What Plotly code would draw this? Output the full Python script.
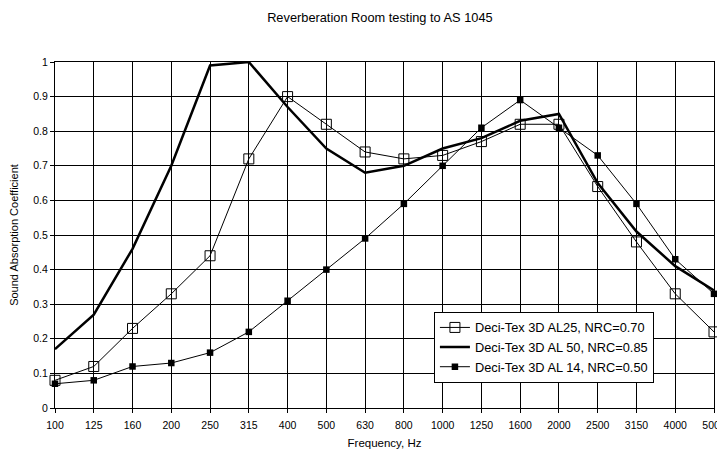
import plotly.graph_objects as go

freqs = ["100", "125", "160", "200", "250", "315", "400", "500", "630", "800",
         "1000", "1250", "1600", "2000", "2500", "3150", "4000", "5000"]

al25 = [0.08, 0.12, 0.23, 0.33, 0.44, 0.72, 0.90, 0.82, 0.74, 0.72,
        0.73, 0.77, 0.82, 0.82, 0.64, 0.48, 0.33, 0.22]
al50 = [0.17, 0.27, 0.46, 0.70, 0.99, 1.00, 0.87, 0.75, 0.68, 0.70,
        0.75, 0.78, 0.83, 0.85, 0.65, 0.51, 0.41, 0.34]
al14 = [0.07, 0.08, 0.12, 0.13, 0.16, 0.22, 0.31, 0.40, 0.49, 0.59,
        0.70, 0.81, 0.89, 0.81, 0.73, 0.59, 0.43, 0.33]

names = ["Deci-Tex 3D AL25, NRC=0.70",
         "Deci-Tex 3D AL 50, NRC=0.85",
         "Deci-Tex 3D AL 14, NRC=0.50"]

FONT = "Arial, Liberation Sans, sans-serif"

# page has an 8px body margin, so the figure is sized/placed to compensate
W, H = 717, 441

fig = go.Figure()
fig.add_trace(go.Scatter(
    x=freqs, y=al25, name=names[0], mode="lines+markers",
    line=dict(color="black", width=1),
    marker=dict(symbol="square-open", size=10, color="black", line=dict(width=1, color="black")),
    cliponaxis=False))
fig.add_trace(go.Scatter(
    x=freqs, y=al50, name=names[1], mode="lines",
    line=dict(color="black", width=2.5),
    cliponaxis=False))
fig.add_trace(go.Scatter(
    x=freqs, y=al14, name=names[2], mode="lines+markers",
    line=dict(color="black", width=1),
    marker=dict(symbol="square", size=6.5, color="black"),
    cliponaxis=False))

fig.update_layout(
    width=W, height=H,
    margin=dict(l=47, r=11, t=54, b=41, autoexpand=False),
    paper_bgcolor="white", plot_bgcolor="white",
    font=dict(family=FONT, color="black", size=10.5),
    title=dict(text="Reverberation Room testing to AS 1045",
               font=dict(family=FONT, size=12.8, color="black"),
               xref="paper", x=0.493, xanchor="center",
               yref="container", y=1 - 10 / H, yanchor="middle"),
    legend=dict(x=0.575, y=0.176, xanchor="left", yanchor="middle",
                bgcolor="white", bordercolor="black", borderwidth=1,
                font=dict(family=FONT, size=12.8, color="black"),
                itemwidth=30, tracegroupgap=0),
    showlegend=True,
)

fig.update_xaxes(
    type="category", range=[0, 17], automargin=False,
    showgrid=True, gridcolor="black", gridwidth=1,
    showline=True, linecolor="black", linewidth=1, mirror=True,
    ticks="outside", ticklen=4, tickcolor="black", ticklabelstandoff=3,
    tickfont=dict(family=FONT, size=10.5, color="black"),
    title=dict(text="Frequency, Hz", font=dict(family=FONT, size=11.5, color="black"), standoff=12),
    zeroline=False,
)
fig.update_yaxes(
    range=[0, 1], dtick=0.1, tick0=0, automargin=False,
    showgrid=True, gridcolor="black", gridwidth=1,
    showline=True, linecolor="black", linewidth=1, mirror=True,
    ticks="outside", ticklen=4, tickcolor="black",
    tickfont=dict(family=FONT, size=10.5, color="black"),
    title=dict(text="Sound Absorption Coefficient", font=dict(family=FONT, size=11, color="black"), standoff=20),
    zeroline=False,
)

fig.write_html("out.html")
